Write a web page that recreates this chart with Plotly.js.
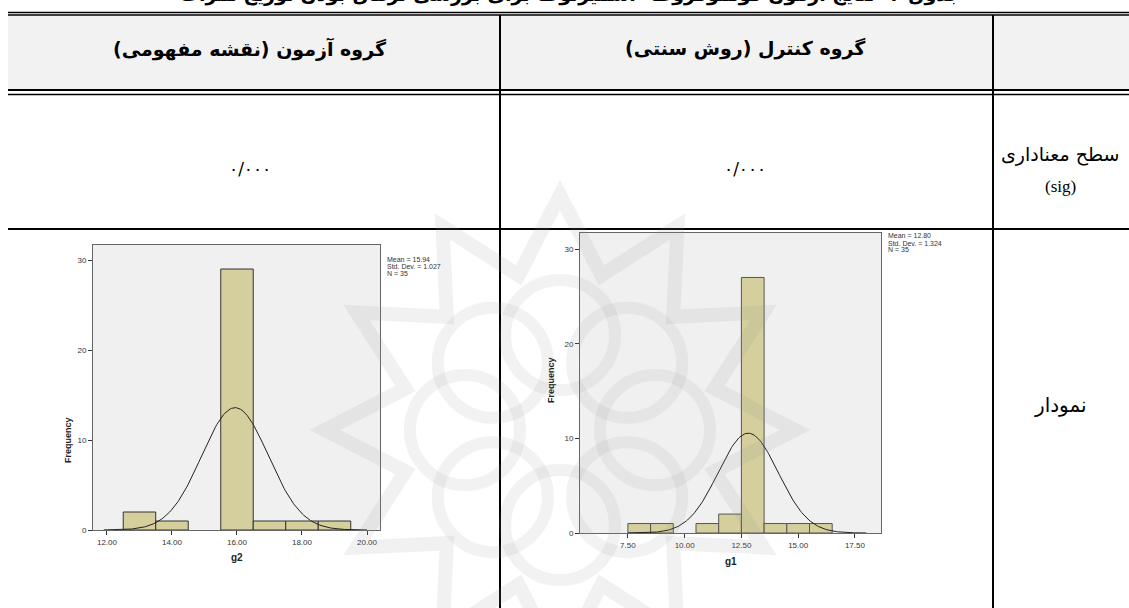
<!DOCTYPE html>
<html>
<head>
<meta charset="utf-8">
<script src="https://cdn.plot.ly/plotly-3.0.1.min.js"></script>
<style>
html,body{margin:0;padding:0;background:#fff;}
#chart{width:1129px;height:608px;}
</style>
</head>
<body>
<div id="chart"></div>
<script>
// ---- data ----
const g2Centers = [13, 14, 16, 17, 18, 19];
const g2Counts  = [2, 1, 29, 1, 1, 1];
const g2Mean = 15.94, g2Sd = 1.027, g2N = 35;
const g2Ticks = [12, 14, 16, 18, 20];

const g1Centers = [8, 9, 11, 12, 13, 14, 15, 16];
const g1Counts  = [1, 1, 1, 2, 27, 1, 1, 1];
const g1Mean = 12.80, g1Sd = 1.324, g1N = 35;
const g1Ticks = [7.5, 10, 12.5, 15, 17.5];

const yTicks = [0, 10, 20, 30];

const headerLabels = ['گروه آزمون (نقشه مفهومی)', 'گروه کنترل (روش سنتی)'];
const sigValues = ['۰/۰۰۰', '۰/۰۰۰'];
const rowLabels = ['سطح معناداری', '(sig)', 'نمودار'];
const titleText = 'جدول ۲- نتایج آزمون کولموگروف- اسمیرنوف برای بررسی نرمال بودن توزیع نمرات';

// ---- helpers ----
const W = 1129, H = 608;
const px = x => x / W;
const py = y => 1 - y / H;
const RLM = '\u200F';

function normalCurve(mean, sd, n, x0, x1) {
  const xs = [], ys = [];
  const steps = 200;
  for (let i = 0; i <= steps; i++) {
    const x = x0 + (x1 - x0) * i / steps;
    xs.push(x);
    ys.push(n * 1 / (sd * Math.sqrt(2 * Math.PI)) * Math.exp(-0.5 * Math.pow((x - mean) / sd, 2)));
  }
  return {xs, ys};
}

const barColor = '#d4cf9c';
const c2 = normalCurve(g2Mean, g2Sd, g2N, 11.9, 20.0);
const c1 = normalCurve(g1Mean, g1Sd, g1N, 7.5, 18.0);

const traces = [
  {type: 'bar', x: g2Centers, y: g2Counts, width: 1, xaxis: 'x', yaxis: 'y',
   marker: {color: barColor, line: {color: '#333', width: 1}}, hoverinfo: 'skip'},
  {type: 'scatter', mode: 'lines', x: c2.xs, y: c2.ys, xaxis: 'x', yaxis: 'y',
   line: {color: '#222', width: 1}, hoverinfo: 'skip'},
  {type: 'bar', x: g1Centers, y: g1Counts, width: 1, xaxis: 'x2', yaxis: 'y2',
   marker: {color: barColor, line: {color: '#555', width: 1}}, hoverinfo: 'skip'},
  {type: 'scatter', mode: 'lines', x: c1.xs, y: c1.ys, xaxis: 'x2', yaxis: 'y2',
   line: {color: '#222', width: 1, dash: 'solid'}, hoverinfo: 'skip'}
];

const axisCommon = {
  showline: true, mirror: true, linecolor: '#666', linewidth: 1,
  ticks: 'outside', ticklen: 4, tickcolor: '#333', tickwidth: 1,
  showgrid: false, zeroline: false,
  tickfont: {family: 'Arial, Liberation Sans, sans-serif', size: 8, color: '#333'},
  fixedrange: true
};

// ---- table lines ----
const shapes = [];
function hline(y, x0, x1, w) {
  shapes.push({type: 'line', xref: 'paper', yref: 'paper', x0: px(x0), x1: px(x1), y0: py(y), y1: py(y),
    line: {color: '#000', width: w}});
}
function vline(x, y0, y1, w) {
  shapes.push({type: 'line', xref: 'paper', yref: 'paper', x0: px(x), x1: px(x), y0: py(y0), y1: py(y1),
    line: {color: '#000', width: w}});
}
shapes.push({type: 'rect', xref: 'paper', yref: 'paper', x0: px(8), x1: px(1129), y0: py(16), y1: py(89),
  fillcolor: '#f2f2f2', line: {width: 0}, layer: 'below'});
hline(12.5, 8, 1129, 1.5);
hline(15, 8, 1129, 1.5);
hline(90, 8, 1129, 2);
hline(94.5, 8, 1129, 1.5);
hline(229, 8, 1129, 2);
vline(500, 15, 608, 2);
vline(993, 15, 608, 2);

// ---- faint watermark (decorative emblem behind the lower row) ----
function pathFromPts(pts) {
  return pts.map((p, i) => (i ? 'L' : 'M') + px(p[0]).toFixed(5) + ',' + py(p[1]).toFixed(5)).join(' ') + ' Z';
}
const wmCx = 560, wmCy = 430;
const starPts = [];
for (let i = 0; i < 24; i++) {
  const a = Math.PI * i / 12 - Math.PI / 2;
  const r = (i % 2 === 0) ? 235 : 160;
  starPts.push([wmCx + r * Math.cos(a), wmCy + r * Math.sin(a)]);
}
shapes.push({type: 'path', xref: 'paper', yref: 'paper', path: pathFromPts(starPts),
  line: {color: '#9a9a9a', width: 14}, fillcolor: 'rgba(0,0,0,0)', opacity: 0.13, layer: 'above'});
for (let i = 0; i < 8; i++) {
  const a = Math.PI * i / 4;
  const cx = wmCx + 95 * Math.cos(a), cy = wmCy + 95 * Math.sin(a);
  shapes.push({type: 'circle', xref: 'paper', yref: 'paper',
    x0: px(cx - 55), x1: px(cx + 55), y0: py(cy + 55), y1: py(cy - 55),
    line: {color: '#9a9a9a', width: 12}, opacity: 0.12, layer: 'above'});
}

// ---- texts ----
const ann = [];
function txt(text, x, y, font, extra) {
  ann.push(Object.assign({text, x: px(x), y: py(y), xref: 'paper', yref: 'paper', showarrow: false,
    xanchor: 'center', yanchor: 'middle', font}, extra || {}));
}
const faBold = {family: 'DejaVu Sans', size: 19, color: '#000', weight: 'bold'};
const faNorm = {family: 'DejaVu Sans', size: 19, color: '#000'};
txt('<b>' + RLM + titleText + RLM + '</b>', 570, 8, faBold, {yanchor: 'bottom'});
txt('<b>' + RLM + headerLabels[0] + RLM + '</b>', 250, 49, faBold);
txt('<b>' + RLM + headerLabels[1] + RLM + '</b>', 745, 49, faBold);
txt(sigValues[0], 250, 169, {family: 'DejaVu Sans', size: 17, color: '#000'});
txt(sigValues[1], 745, 169, {family: 'DejaVu Sans', size: 17, color: '#000'});
txt(RLM + rowLabels[0] + RLM, 1060, 155, faNorm);
txt(rowLabels[1], 1060, 186, {family: 'Liberation Serif', size: 17, color: '#000'});
txt(RLM + rowLabels[2] + RLM, 1060, 405, {family: 'DejaVu Sans', size: 20, color: '#000'});

const small = {family: 'Arial, Liberation Sans, sans-serif', size: 7, color: '#333'};
const legL = ['Mean = ' + g2Mean.toFixed(2), 'Std. Dev. = ' + g2Sd.toFixed(3), 'N = ' + g2N];
const legR = ['Mean = ' + g1Mean.toFixed(2), 'Std. Dev. = ' + g1Sd.toFixed(3), 'N = ' + g1N];
legL.forEach((t, i) => txt(t, 385, 259 + i * 7, small, {xanchor: 'left'}));
legR.forEach((t, i) => txt(t, 886, 236 + i * 7, small, {xanchor: 'left'}));

const axTitle = {family: 'Arial, Liberation Sans, sans-serif', size: 10, color: '#222', weight: 'bold'};
txt('<b>g2</b>', 237, 557, axTitle);
txt('<b>g1</b>', 731, 561, axTitle);
txt('<b>Frequency</b>', 68, 440, {family: 'Arial, Liberation Sans, sans-serif', size: 9, color: '#222'}, {textangle: -90});
txt('<b>Frequency</b>', 551, 380, {family: 'Arial, Liberation Sans, sans-serif', size: 9, color: '#222'}, {textangle: -90});

const layout = {
  width: W, height: H,
  margin: {l: 0, r: 0, t: 0, b: 0},
  paper_bgcolor: '#ffffff',
  plot_bgcolor: '#f0f0f0',
  showlegend: false,
  bargap: 0,
  xaxis: Object.assign({}, axisCommon, {domain: [px(93), px(380)], range: [11.57, 20.4],
    tickvals: g2Ticks, ticktext: g2Ticks.map(v => v.toFixed(2)), anchor: 'y'}),
  yaxis: Object.assign({}, axisCommon, {domain: [py(530), py(245)], range: [0, 31.67],
    tickvals: yTicks, anchor: 'x'}),
  xaxis2: Object.assign({}, axisCommon, {domain: [px(580), px(881)], range: [5.39, 18.65],
    tickvals: g1Ticks, ticktext: g1Ticks.map(v => v.toFixed(2)), anchor: 'y2'}),
  yaxis2: Object.assign({}, axisCommon, {domain: [py(533), py(233)], range: [0, 31.7],
    tickvals: yTicks, anchor: 'x2'}),
  shapes: shapes,
  annotations: ann
};

Plotly.newPlot('chart', traces, layout, {displayModeBar: false, staticPlot: true});
</script>
</body>
</html>
